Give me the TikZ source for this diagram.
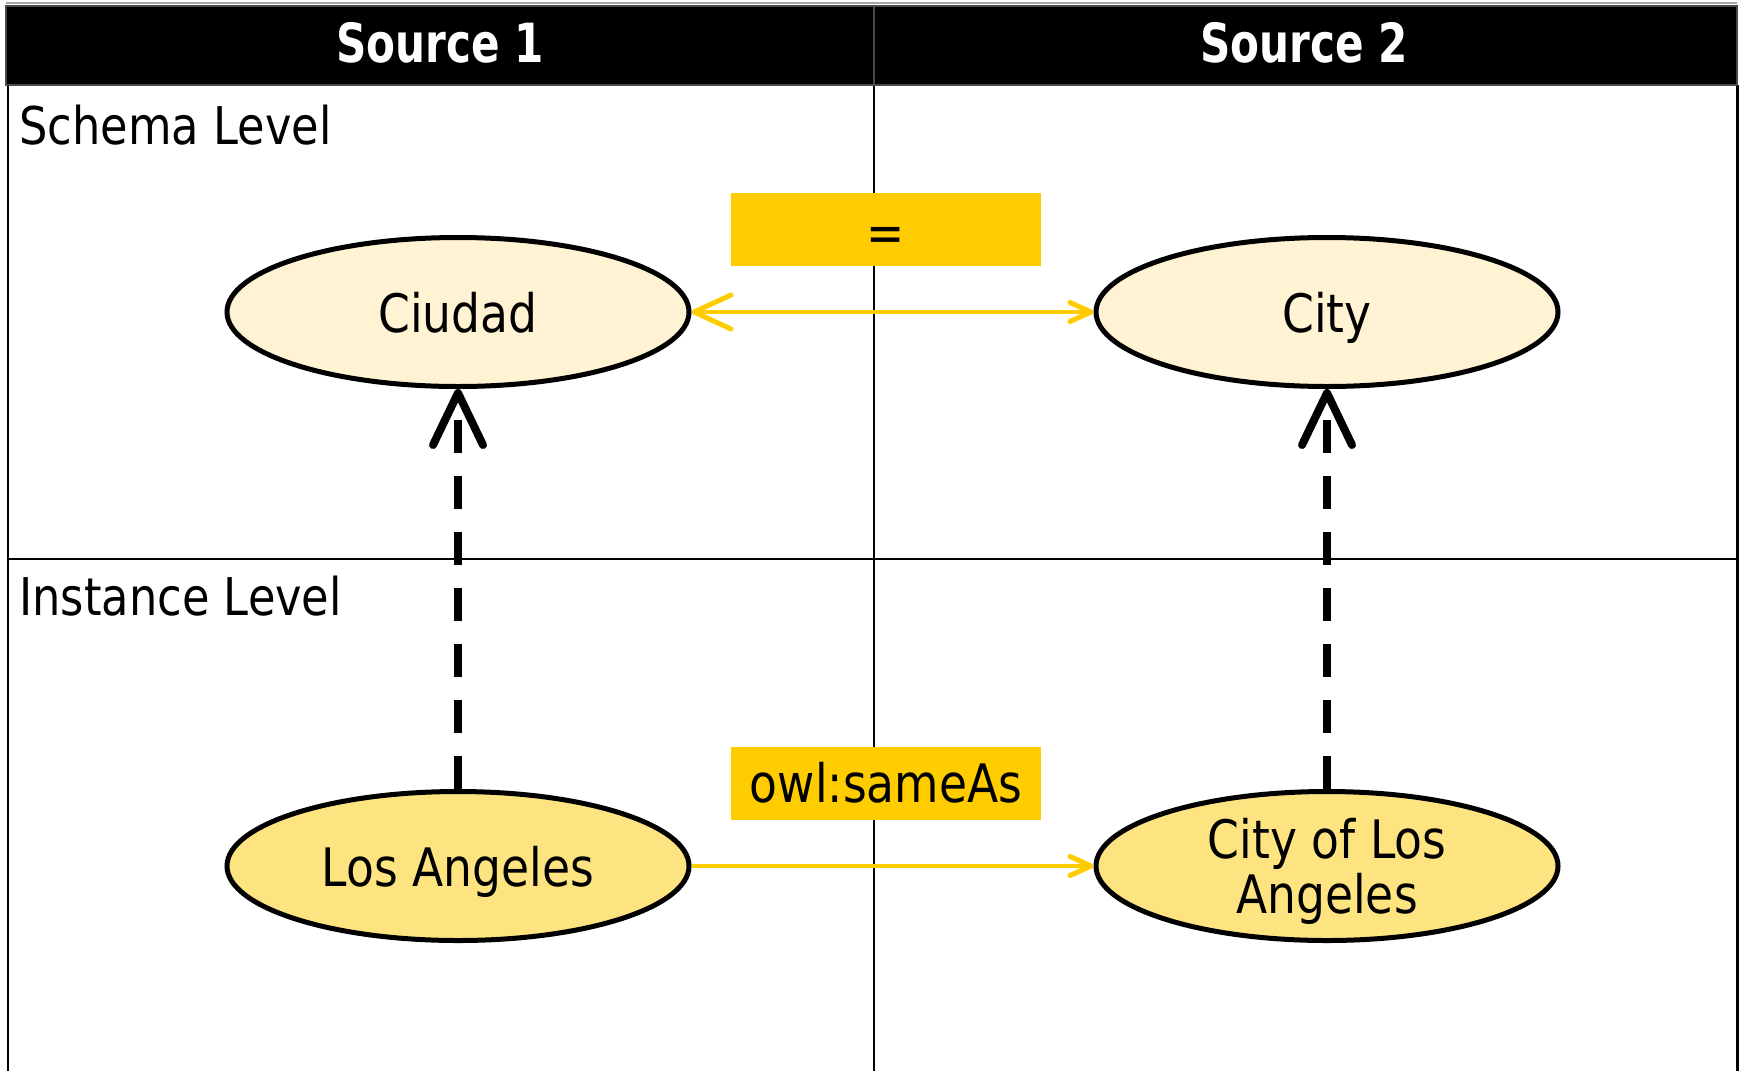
\documentclass[tikz,border=0pt]{standalone}
\usepackage{fontspec}
\setmainfont{DejaVu Sans}[FakeStretch=0.86]
\newfontfamily\headfont{DejaVu Sans Bold}[FakeStretch=0.78]
\usetikzlibrary{arrows.meta,shapes.geometric}

\definecolor{headgray}{HTML}{4A4A4A}
\definecolor{classfill}{HTML}{FFF3D3}
\definecolor{instfill}{HTML}{FEE481}
\definecolor{linkyellow}{HTML}{FFCC00}

\tikzset{
  gridline/.style={line width=1.1pt, black},
  headcell/.style={fill=black, draw=headgray, line width=0.6pt},
  headtext/.style={text=white, font=\headfont\fontsize{27pt}{30pt}\selectfont, anchor=base},
  leveltext/.style={font=\fontsize{26pt}{28pt}\selectfont, anchor=base west, inner sep=0},
  concept/.style={ellipse, draw=black, line width=2.5pt, minimum width=231pt, minimum height=74.5pt,
    inner sep=0, align=center, text depth=0pt, font=\fontsize{26.5pt}{27.5pt}\selectfont},
  classnode/.style={concept, fill=classfill},
  instnode/.style={concept, fill=instfill},
  relbox/.style={rectangle, fill=linkyellow, minimum width=155pt, minimum height=36.5pt,
    inner sep=0, font=\fontsize{26.5pt}{28pt}\selectfont},
  sameline/.style={draw=linkyellow, line width=2pt},
  bigbarb/.tip={Straight Barb[length=18.5pt, width=17pt, line cap=round, line join=round, line width=2.5pt]},
  smallbarb/.tip={Straight Barb[length=10.5pt, width=9.5pt, line cap=round, line join=round, line width=2.5pt]},
  typeline/.style={draw=black, line width=4pt, dash pattern=on 16.5pt off 11.5pt,
    -{Straight Barb[length=26pt, width=25pt, line cap=round, line join=round, line width=4pt]}},
}

\begin{document}
\begin{tikzpicture}[x=0.5pt, y=-0.5pt]
  \useasboundingbox (0,0) rectangle (1743,1071);

  % table body
  \draw[gridline] (8,85) -- (8,1071);
  \draw[gridline, line width=1.5pt] (1737,85) -- (1737,1071);
  \draw[gridline] (874,85) -- (874,1071);
  \draw[gridline] (8,559) -- (1737,559);

  % header row
  \draw[gray!70, line width=0.8pt] (6,3) -- (1737,3);
  \path[headcell] (6,6) rectangle (874,85);
  \path[headcell] (874,6) rectangle (1737,85);
  \node[headtext] (h1) at (440,62) {Source 1};
  \node[headtext] (h2) at (1304,62) {Source 2};

  % level captions
  \node[leveltext] (schema) at (19,144) {Schema Level};
  \node[leveltext] (instance) at (19,615) {Instance Level};

  % relation labels
  \node[relbox, text height=21.5pt, text depth=0pt] (eq) at (886,229.5) {=};
  \node[relbox] (same) at (886,783) {owl:sameAs};

  % classes and instances
  \node[classnode] (ciudad) at (458,312) {Ciudad};
  \node[classnode] (city) at (1327,312) {City};
  \node[instnode] (la) at (458,866) {Los Angeles};
  \node[instnode] (cityla) at (1327,866) {City of Los\\Angeles};

  % equivalence and identity links
  \draw[sameline, bigbarb-smallbarb] (ciudad.east) -- (city.west);
  \draw[sameline, -smallbarb] (la.east) -- (cityla.west);

  % instance-of links
  \draw[typeline] (la.north) -- (ciudad.south);
  \draw[typeline] (cityla.north) -- (city.south);
\end{tikzpicture}
\end{document}
